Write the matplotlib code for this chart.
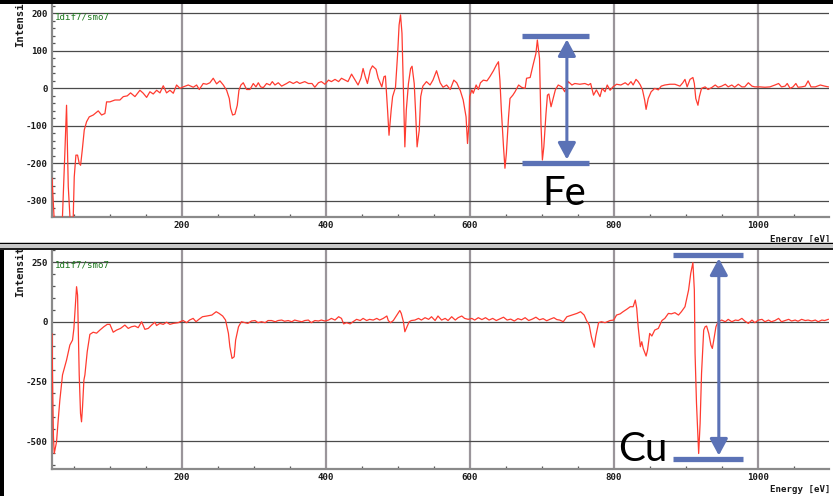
import matplotlib
matplotlib.use("Agg")
import matplotlib.pyplot as plt
from matplotlib.patches import Rectangle, FancyArrowPatch
from matplotlib.ticker import MultipleLocator

# ---------------- spectrum data ----------------
fe_energy = [20, 25, 33, 35.6, 37.9, 40.2, 42.6, 44.9, 46, 48, 49.5, 50.9, 53.2, 55.5, 57.8,
             59.7, 62, 64.8, 68, 71.7, 77.3, 84.2, 88.9, 93.5, 95.8, 100.4, 107.4, 114.3, 119,
             124.5, 129.1, 135.2, 142.1, 146.7, 151.4, 156, 160.6, 165.3, 169.9, 174.5, 179.1,
             183.8, 188.4, 193, 197.7, 202.3, 209.2, 216.2, 220.8, 224.5, 230, 234.7, 239.3,
             243.9, 248.6, 253.2, 257.9, 262.5, 266.2, 268, 270.8, 274, 277.3, 279.6, 282.4,
             285.6, 290.3, 294.9, 299.5, 303.2, 306.5, 309.7, 313.4, 318, 322.7, 325.9, 329.6,
             334.2, 338.9, 345.8,
             350, 355, 360, 364, 371, 376, 381, 385, 390, 394, 399, 404, 408, 413, 418, 422,
             427, 431, 436, 441, 445, 449, 452, 455, 458, 462, 465, 470, 473, 478, 481, 483,
             486, 488, 491, 493, 497, 500, 502, 504, 506, 508, 510, 512, 515, 518, 520, 523,
             525, 527, 530, 532, 535, 540, 545, 549, 554, 559, 563, 568, 573, 578, 582, 587,
             591, 595, 597, 599, 600, 603, 605, 609, 612, 615, 619, 624, 628, 633, 637, 640,
             642, 644, 647, 649, 651, 654, 656, 660, 663, 668, 672, 677, 679, 684, 688, 692,
             694, 697, 699, 701, 703, 706, 708, 710, 713, 716, 719,
             723, 728, 732, 737, 742, 746, 753, 760, 765, 768, 772, 776, 781, 784, 788, 791,
             795, 799, 804, 810, 816, 820, 824, 827, 831, 834, 837, 840, 843, 845, 848, 852,
             857, 862, 866, 871, 878, 885, 892, 896, 899, 902, 906, 910, 912, 914, 917, 919,
             922, 927, 931, 936, 941, 945, 950, 955, 959, 964, 968, 973, 978, 982, 987, 992,
             996, 1003, 1010, 1017, 1024, 1029, 1033, 1038, 1041, 1045, 1049, 1053, 1056,
             1061, 1066, 1070, 1074, 1080, 1087, 1093, 1098]
fe_intensity = [-240, -420, -420, -289, -169, -45, -262, -342, -420, -420, -342, -236, -178, -178, -200,
                -205, -165, -111, -89, -76, -71, -60, -71, -67, -36, -36, -31, -31, -22,
                -20, -12, -22, -5, -13, -24, -9, -15, -5, -12, 7, -12,
                -5, -13, 9, 0, 4, 9, 3, 9, -3, 13, 11, 15,
                27, 12, 20, 9, -5, -27, -53, -71, -69, -45, -5, 9,
                15, -3, -3, 13, 4, 15, 4, 2, 13, 9, 18, 9,
                15, 6, 13,
                18, 13, 18, 13, 18, 13, 13, 3, 15, 18, 11, 22, 18, 24, 18, 27,
                22, 18, 38, 22, 9, 27, 53, 31, 13, 49, 60, 51, 27, 4, 31, 33,
                -58, -125, -58, -22, 3, 93, 169, 196, 147, -4, -156, -58, 13, 53, 59, 13,
                -67, -156, -111, -22, 6, 18, 9, 22, 47, 15, 3, 9, -3, 22, 15, -6,
                -31, -76, -147, -93, -22, -4, -13, 9, -3, 15, 22, 20, 31, 47, 62, 71,
                22, -58, -156, -213, -173, -76, -27, -18, -9, 9, 3, 0, 27, 29, 62, 93,
                129, 80, -93, -191, -156, -67, -18, -15, -49, -27, -4,
                9, 4, -9, 18, 9, 13, 11, 13, 9, 13, -18, -4, -22, 0, -9, 9,
                -5, 4, 11, 9, 15, 9, 18, 9, 24, 18, 9, -4, -31, -56, -27, -9,
                0, -4, 6, 9, 11, 11, 6, 15, 24, 4, 24, 29, 13, -27, -45, -22,
                0, 4, -3, 2, 9, 3, 6, 11, 4, 9, 3, 11, 4, 4, 15, 6,
                4, 4, 3, 4, 9, 13, 4, 6, 13, 0, 4, 13, 3,
                4, 6, 20, 4, 4, 9, 6, 4]

cu_energy = [20, 21, 22, 23.1, 26.3, 28.6, 30.9, 33.3, 34.6, 40.2, 44.8, 48.5, 50.4, 52.7, 54.1,
             55.5, 56.9, 57.8, 59.6, 61, 62.4, 64.3, 65.7, 68.9, 72.6, 77.2, 81.9, 86.5, 92,
             96.7, 100.4, 105, 109.7, 115.2, 121.2, 125.9, 130.5, 135.1, 139.7, 144.4, 149,
             153.6, 158.3, 162.9, 165.2, 169.8, 174.5, 179.1, 183.7, 188.4, 195.3,
             198, 202, 207, 211, 216, 220, 224, 229, 235, 242, 248, 252, 257, 261, 265, 267,
             270, 273, 275, 279, 283, 288, 292, 297, 302, 306, 311, 316, 320, 325, 330, 334,
             339, 343, 348, 353, 357, 362, 367, 371, 376, 380, 385, 390, 394, 399, 404, 408,
             413, 418, 422, 425, 429, 434, 438, 443, 448, 452, 457, 461, 466, 471, 475, 480,
             485, 487, 490, 494, 499, 503, 505, 508, 510, 512, 516, 519, 524, 529, 533, 538,
             543, 547, 552, 556, 561, 566, 570, 575, 580, 584, 589, 593, 598, 603, 607, 612,
             617, 622, 627, 632, 637, 642, 647, 652, 657, 662, 667, 672, 677, 682, 687, 692,
             697, 702, 707, 712, 717, 721,
             725, 730, 735, 742, 749, 754, 759, 762, 766, 769, 773, 775, 779, 783, 788, 795,
             800, 804, 809, 813, 818, 823, 827, 830, 832, 834, 837, 839, 841, 845, 847, 850,
             853, 857, 862, 867, 871, 876, 880, 885, 890, 894, 899, 904, 907, 910, 912, 913,
             915, 918, 920, 922, 925, 927, 929, 932, 935, 937, 939, 942, 945, 950, 955, 959,
             964, 969, 973, 978, 982, 987, 992, 996, 1001, 1006, 1010, 1015, 1019, 1024, 1029,
             1033, 1038, 1043, 1047, 1052, 1056, 1061, 1066, 1070, 1075, 1080, 1084, 1089,
             1093, 1098]
cu_intensity = [-50, -300, -480, -552, -503, -412, -328, -258, -222, -160, -97, -76, -27, 85, 148,
                113, -83, -222, -384, -419, -356, -244, -222, -125, -52, -43, -47, -34, -20,
                -10, -10, -43, -34, -27, -13, -27, -20, -17, -24, 1, -31,
                -27, -13, -1, -15, -6, -10, -1, -10, -6, -3,
                1, 6, -3, 8, 15, 1, 11, 22, 25, 29, 43, 36, 25, 8, -48, -104,
                -153, -146, -76, -20, 1, -3, -6, 4, 6, -3, 1, -3, 6, 6, 1, 6,
                8, 3, 6, 1, 8, 4, 1, 6, 8, -3, 6, 4, 8, 4, 8, 15,
                8, 22, 15, -8, -3, -8, 1, 11, 6, 15, 6, 11, 8, 15, 8, 15,
                25, 6, -3, 6, 29, 48, 36, 1, -41, -27, 1, 6, 8, 15, 8, 18,
                11, 22, 6, 25, 8, 15, 6, 22, 8, 18, 25, 15, 11, 15, 8, 18,
                10, 18, 8, 15, 6, 13, 20, 8, 12, 4, 14, 9, 18, 6, 12, 20,
                9, 14, 5, 12, 18, 10,
                8, 1, 22, 29, 36, 43, 29, 8, -13, -62, -106, -62, -3, 1, -3, 6,
                8, 29, 34, 43, 53, 64, 64, 92, 57, -20, -104, -83, -111, -143, -118, -48,
                -59, -34, -27, 6, 15, 36, 34, 39, 29, 43, 64, 134, 204, 249, 134, -132,
                -342, -552, -426, -216, -34, -20, -17, -48, -97, -111, -76, -20, 1, 8, 1, 11,
                1, 8, 6, 15, 4, -6, 8, -3, 8, 11, 1, 8, 1, 6, 15,
                1, 6, 11, 4, 8, 3, 11, 6, 8, 4, 8, 1, 8,
                6, 11]

x_ticks = [200, 400, 600, 800, 1000]
fe_yticks = [-300, -200, -100, 0, 100, 200]
cu_yticks = [-500, -250, 0, 250]
panel_tag = "1dif7/smo7"

# peak-to-peak markers: (left, right, arrow x, top, bottom)
fe_marker = (673, 766, 735, 140, -199)
cu_marker = (882, 979, 946, 281, -575)

W, H = 833, 496
fig = plt.figure(figsize=(W / 100, H / 100), dpi=100)
fig.patch.set_facecolor("white")


def fx(px):
    return px / W


def fy(py):
    return 1 - py / H


mono = "DejaVu Sans Mono"
line_red = "#ff3b30"
marker_blue = "#5b72b6"
label_dark = "#1a1a1a"


def style_axes(ax, yticks, minor_y, ylim, tag_py):
    ax.set_xlim(20, 1099)
    ax.set_ylim(*ylim)
    ax.set_facecolor("white")
    for side in ("top", "right"):
        ax.spines[side].set_visible(False)
    for side in ("left", "bottom"):
        ax.spines[side].set_color("#8a8a8a")
        ax.spines[side].set_linewidth(1.6)
    ax.set_xticks(x_ticks)
    ax.set_xticklabels([str(v) for v in x_ticks])
    ax.set_yticks(yticks)
    ax.set_yticklabels([str(v) for v in yticks])
    ax.xaxis.set_minor_locator(MultipleLocator(50))
    ax.yaxis.set_minor_locator(MultipleLocator(minor_y))
    ax.tick_params(which="both", direction="in", color="#555555", width=0.9)
    ax.tick_params(which="major", length=0, pad=3, labelsize=6.6, labelcolor=label_dark)
    ax.tick_params(which="minor", length=2.5)
    for lab in ax.get_xticklabels() + ax.get_yticklabels():
        lab.set_fontfamily(mono)
        lab.set_fontweight("bold")
    ax.xaxis.grid(True, color="#9a959a", lw=1.6)
    ax.yaxis.grid(True, color="#4a4a4a", lw=0.9)
    ax.set_axisbelow(True)
    fig.text(fx(55), fy(tag_py), panel_tag, ha="left", va="center", color="#1f7a1f",
             fontsize=6.6, family=mono)


def draw_marker(ax, marker, label, label_xy):
    left, right, xa, top, bottom = marker
    ax.plot([left, right], [top, top], color=marker_blue, lw=3.8, solid_capstyle="butt",
            zorder=5, clip_on=False)
    ax.plot([left, right], [bottom, bottom], color=marker_blue, lw=3.8,
            solid_capstyle="butt", zorder=5, clip_on=False)
    arr = FancyArrowPatch((xa, top), (xa, bottom),
                          arrowstyle="<|-|>,head_length=10,head_width=5.4",
                          mutation_scale=1, color=marker_blue, lw=2.2,
                          shrinkA=2.5, shrinkB=2.5, zorder=5, clip_on=False)
    ax.add_patch(arr)
    ax.text(label_xy[0], label_xy[1], label, fontsize=29, family="Lato", color="black",
            ha="left", va="baseline", zorder=6, clip_on=False)


# ---- upper panel (Fe) ----
ax1 = fig.add_axes([fx(52), fy(217), fx(829) - fx(52), fy(4) - fy(217)])
style_axes(ax1, fe_yticks, 20, (-343, 225), 17)
ax1.plot(fe_energy, fe_intensity, color=line_red, lw=0.9, zorder=3)
draw_marker(ax1, fe_marker, "Fe", (701, -312))

# ---- lower panel (Cu) ----
ax2 = fig.add_axes([fx(52), fy(469), fx(829) - fx(52), fy(250) - fy(469)])
style_axes(ax2, cu_yticks, 50, (-617, 302), 265)
ax2.plot(cu_energy, cu_intensity, color=line_red, lw=0.9, zorder=3)
draw_marker(ax2, cu_marker, "Cu", (806, -585))

# x-axis titles
for py in (240, 490):
    fig.text(fx(830), fy(py), "Energy [eV]", ha="right", va="center", fontsize=6.6,
             family=mono, fontweight="bold", color=label_dark)

# rotated axis titles, cut off by the panel edges
for py in (47, 297):
    fig.text(fx(20), fy(py), "Intensity", rotation=90, ha="center", va="bottom",
             fontsize=7.6, family=mono, fontweight="bold", color=label_dark)

# window frames
frame_kw = dict(transform=fig.transFigure, zorder=10)
fig.patches.append(Rectangle((0, fy(3.5)), 1, fy(0) - fy(3.5), facecolor="black",
                             edgecolor="none", **frame_kw))
fig.patches.append(Rectangle((0, fy(249.5)), 1, fy(242.5) - fy(249.5), facecolor="#c8c8c8",
                             edgecolor="none", **frame_kw))
fig.patches.append(Rectangle((0, fy(244)), 1, fy(242.5) - fy(244), facecolor="black",
                             edgecolor="none", **frame_kw))
fig.patches.append(Rectangle((0, fy(249.5)), 1, fy(248) - fy(249.5), facecolor="#202020",
                             edgecolor="none", **frame_kw))
fig.patches.append(Rectangle((0, 0), fx(3.5), fy(249.5), facecolor="black",
                             edgecolor="none", **frame_kw))

fig.savefig("out.png", dpi=100, facecolor="white")
